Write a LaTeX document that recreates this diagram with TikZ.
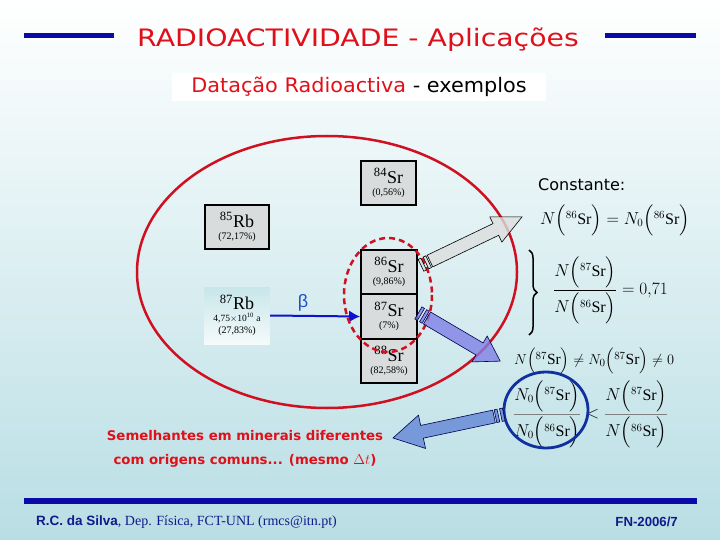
\documentclass[tikz,border=0pt]{standalone}
\usepackage{amsmath}
\usepackage{fontspec}
\setmainfont{Liberation Serif}
\newfontfamily\comicf{DejaVu Sans}
\newfontfamily\arialf{Liberation Sans}
\usetikzlibrary{decorations.pathreplacing,arrows.meta}
\definecolor{bgbot}{HTML}{B8DEE4}
\definecolor{titlered}{HTML}{E0101A}
\definecolor{lineblue}{HTML}{0A0AA8}
\definecolor{footblue}{HTML}{101A8C}
\definecolor{boxgray}{HTML}{D8DCDC}
\definecolor{ellred}{HTML}{D01020}
\definecolor{betablue}{HTML}{2050C8}
\definecolor{betaline}{HTML}{1010D0}
\definecolor{arrgray}{HTML}{DCDEDE}
\definecolor{arrblue}{HTML}{8080E6}
\definecolor{arrblueb}{HTML}{6F90D8}
\definecolor{circblue}{HTML}{1030A0}
\definecolor{rbtop}{HTML}{C8E6EA}
\definecolor{rbbot}{HTML}{F4FAFB}
\newcommand{\blkarrow}[8]{%
\begin{scope}[shift={(#1,#2)},rotate=#3]
\path[#8] (0,-#5) -- (#4,-#5) -- (#4,-#7) -- ({#4+#6},0) -- (#4,#7) -- (#4,#5) -- (0,#5) -- cycle;
\path[#8] (-4.5,-#5) rectangle (-1.5,#5);
\path[#8] (-10,-#5) rectangle (-7,#5);
\end{scope}}
\tikzset{
  iso/.style={draw=black, line width=1.8pt, fill=boxgray, inner sep=0pt, align=center},
  eq/.style={inner sep=0pt, font=\fontsize{16}{18}\selectfont},
  comictxt/.style={inner sep=0pt, font=\comicf\fontsize{16}{18}\selectfont},
}
\newcommand{\isot}[3]{{\fontsize{18}{18}\selectfont\textsuperscript{#1}#2}\\[0pt]{\fontsize{10}{11}\selectfont #3}}
\newcommand{\srx}[1]{{}^{#1}\mathrm{Sr}}
\begin{document}
\begin{tikzpicture}[x=1pt,y=-1pt]
\useasboundingbox (0,0) rectangle (720,540);
\shade[top color=white, bottom color=bgbot] (0,0) rectangle (720,540);
% header
\fill[lineblue] (24,33) rectangle (114,38);
\fill[lineblue] (605,33) rectangle (696,38);
\node[font=\comicf\fontsize{24}{26}\selectfont, text=titlered] (title) at (358,40) {\scalebox{1.18}[1]{RADIOACTIVIDADE - Aplicações}};
\node[fill=white, minimum width=374pt, minimum height=28pt, inner sep=0pt, font=\comicf\fontsize{20}{22}\selectfont] (sub) at (359,87) {\scalebox{1.04}[1]{\textcolor{titlered}{Datação Radioactiva} - exemplos}};
% big red ellipse
\draw[ellred, line width=2.5pt] (327,272) ellipse [x radius=190, y radius=136];
% boxes
\node[iso, minimum width=55pt, minimum height=44pt] (sr84) at (388.5,183) {\isot{84}{Sr}{(0,56\%)}};
\node[iso, minimum width=64pt, minimum height=44pt] (rb85) at (237,227) {\isot{85}{Rb}{(72,17\%)}};
\node[iso, minimum width=56pt, minimum height=44pt] (sr86) at (389,272) {\isot{86}{Sr}{(9,86\%)}};
\node[iso, minimum width=56pt, minimum height=45pt] (sr87) at (389,316.5) {\isot{87}{Sr}{(7\%)}};
\node[iso, minimum width=56pt, minimum height=44pt] (sr88) at (389,361) {\isot{88}{Sr}{(82,58\%)}};
\shade[top color=rbtop, bottom color=rbbot] (204,287) rectangle (270,344);
\node[inner sep=0pt, minimum width=66pt, minimum height=57pt, align=center] (rb87) at (237,315.5) {{\fontsize{18}{18}\selectfont\textsuperscript{87}Rb}\\[0pt]{\fontsize{9.5}{10}\selectfont 4,75$\times$10\textsuperscript{10} a}\\[0pt]{\fontsize{10}{11}\selectfont (27,83\%)}};
% beta arrow
\draw[betaline, line width=2pt, -{Latex[length=11pt,width=12pt]}] (rb87.east) -- (sr87.west);
\node[text=betablue, font=\arialf\fontsize{18}{18}\selectfont] (beta) at (303,303) {β};
% dashed ellipse
\draw[ellred, line width=2.5pt, dash pattern=on 6pt off 4pt] (388,295) ellipse [x radius=44, y radius=57];
% block arrows
\blkarrow{430}{261}{25.6}{73}{6.5}{29}{14}{draw=black, line width=0.6pt, fill=arrgray, fill opacity=0.8}
\blkarrow{427}{318}{-30.5}{61}{7}{24}{15}{draw=black!70!blue, line width=0.6pt, fill=arrblue, fill opacity=0.8}
% right side texts
\node[comictxt, anchor=west] (const) at (538,185) {Constante:};
\node[eq, anchor=west] (eq1) at (540,220) {$N\Bigl(\srx{86}\Bigr)= N_0\Bigl(\srx{86}\Bigr)$};
\draw[line width=1.5pt, decoration={brace, amplitude=8pt}, decorate] (529,250) -- (529,335);
\node[eq, anchor=west] (eq2) at (553,290) {$\dfrac{N\Bigl(\srx{87}\Bigr)}{N\Bigl(\srx{86}\Bigr)}=0{,}71$};
\node[eq, anchor=west, font=\fontsize{15.5}{17}\selectfont] (eq3) at (514,361) {$N\Bigl(\srx{87}\Bigr)\neq N_0\Bigl(\srx{87}\Bigr)\neq 0$};
\node[eq, anchor=west] (eq4) at (513,414) {$\color{gray}\dfrac{\color{black}N_0\Bigl(\srx{87}\Bigr)}{\color{black}N_0\Bigl(\srx{86}\Bigr)}\color{black}<\color{gray}\dfrac{\color{black}N\Bigl(\srx{87}\Bigr)}{\color{black}N\Bigl(\srx{86}\Bigr)}$};
\draw[circblue, line width=2.8pt] (546,410) ellipse [x radius=42, y radius=38];
\blkarrow{494}{416.5}{192}{73.6}{6.5}{29.7}{17}{draw=black!70!blue, line width=0.6pt, fill=arrblueb, fill opacity=0.9}
% bottom remark
\node[text=titlered, font=\comicf\bfseries\fontsize{13.3}{24}\selectfont, align=center] (rem) at (245,449) {Semelhantes em minerais diferentes\\com origens comuns... (mesmo $\Delta t$)};
% footer
\fill[lineblue] (24,497.5) rectangle (697,503.5);
\node[anchor=west, text=footblue, font=\fontsize{14}{16}\selectfont, inner sep=0pt] (foot) at (36,522) {{\arialf\bfseries\fontsize{13.5}{16}\selectfont R.C. da Silva}, Dep. Física, FCT-UNL (rmcs@itn.pt)};
\node[anchor=east, text=footblue, font=\arialf\bfseries\fontsize{13.2}{15}\selectfont, inner sep=0pt] (fn) at (678,522) {FN-2006/7};
\end{tikzpicture}
\end{document}
